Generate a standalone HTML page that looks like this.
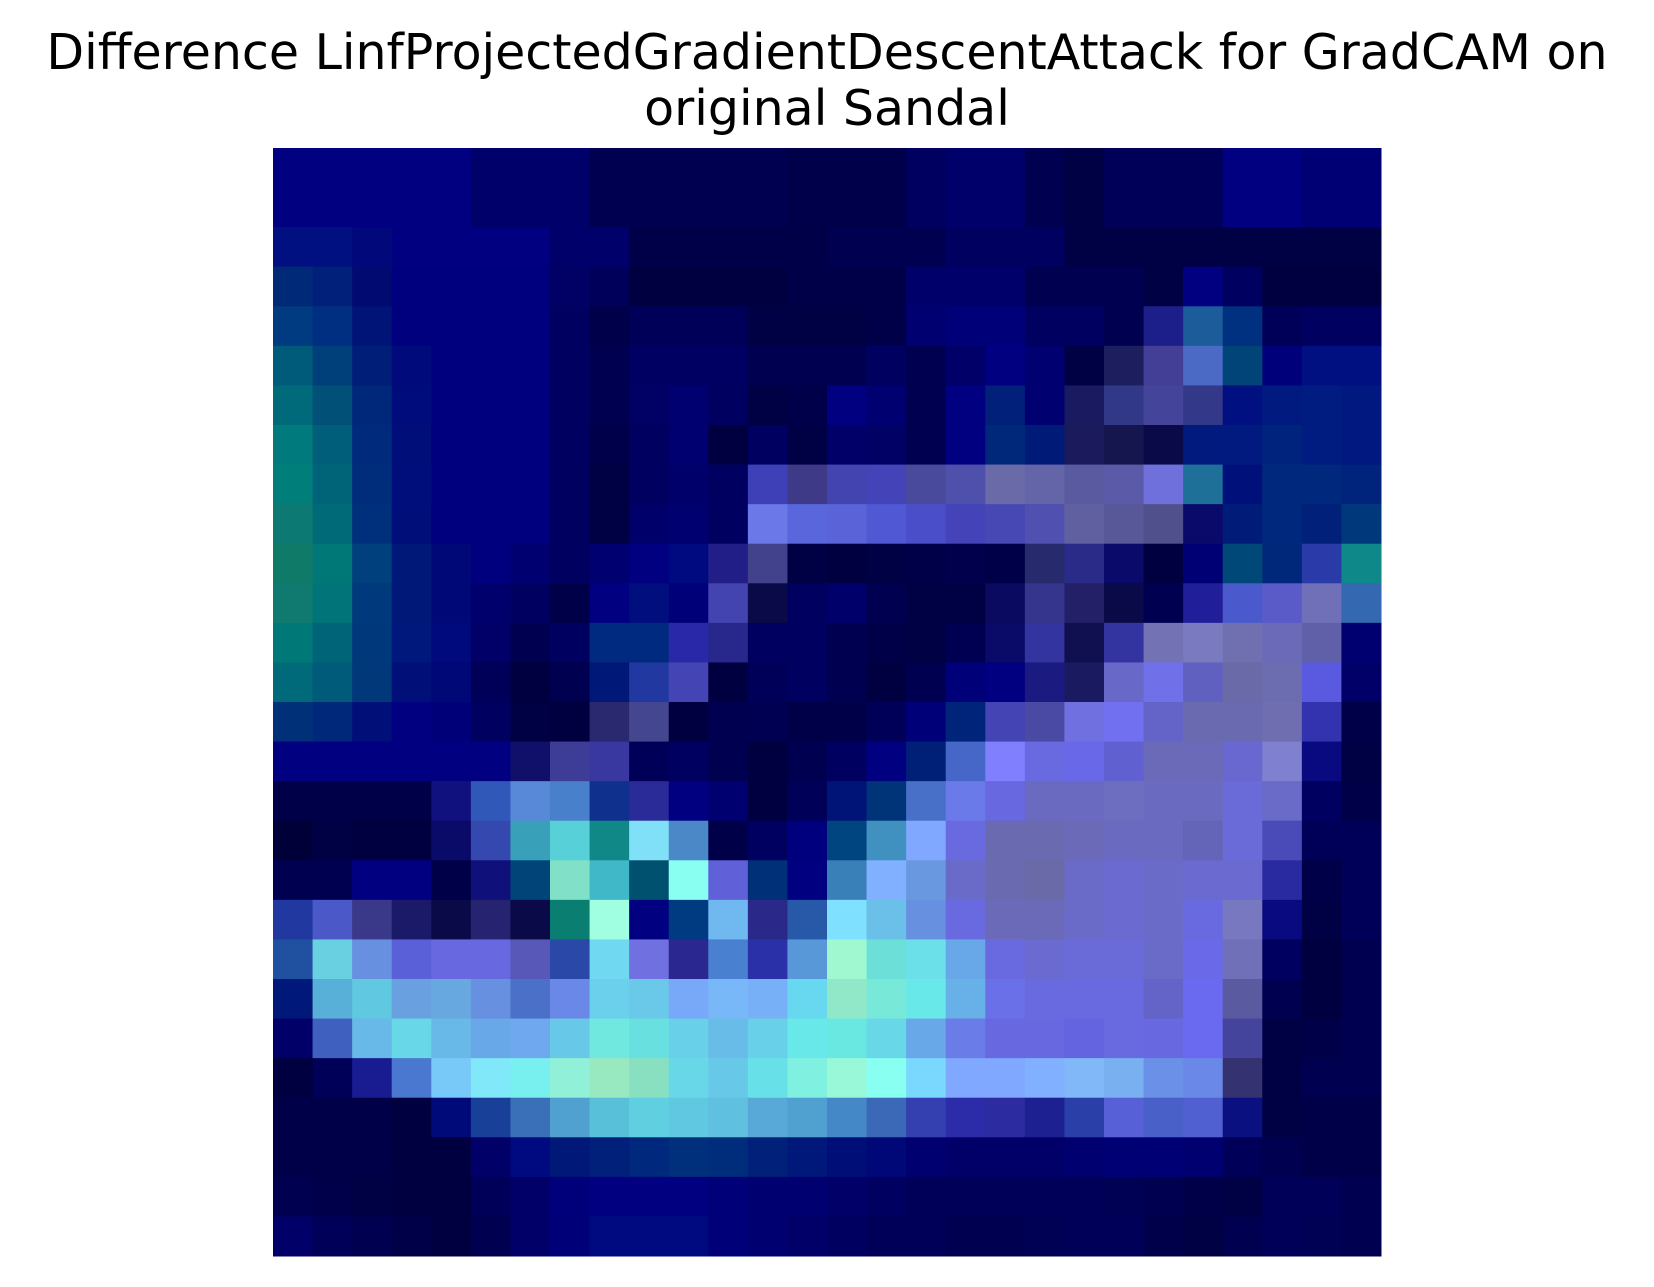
<!DOCTYPE html>
<html>
<head>
<meta charset="utf-8">
<style>
html,body{margin:0;padding:0;background:#fff;}
#wrap{position:relative;width:1654px;height:1287px;overflow:hidden;}
.t{position:absolute;left:0;width:1654px;text-align:center;font-family:"DejaVu Sans","Liberation Sans",sans-serif;font-size:49px;line-height:56px;color:#000;white-space:nowrap;}
</style>
</head>
<body>
<div id="wrap">
<div class="t" style="top:25px">Difference LinfProjectedGradientDescentAttack for GradCAM on</div>
<div class="t" style="top:81px">original Sandal</div>
<svg id="hm" width="1654" height="1287" style="position:absolute;left:0;top:0"></svg>
</div>
<script>
const rowCount = 28;
const colCount = 28;
const cellColors = [
["#000080","#000080","#000080","#000080","#000080","#00006a","#00006a","#00006a","#000050","#000050","#000050","#000050","#000050","#00004a","#00004a","#00004a","#000060","#00006a","#00006a","#000050","#000045","#000058","#000058","#000058","#000080","#000080","#000075","#000075"],
["#000080","#000080","#000080","#000080","#000080","#00006a","#00006a","#00006a","#000050","#000050","#000050","#000050","#000050","#00004a","#00004a","#00004a","#000060","#00006a","#00006a","#000050","#000045","#000058","#000058","#000058","#000080","#000080","#000075","#000075"],
["#001080","#001080","#00087a","#000080","#000080","#000080","#000080","#00006a","#00006a","#000048","#000048","#000048","#000048","#000048","#000050","#000050","#000050","#000060","#000060","#000060","#000045","#000045","#000045","#000045","#000045","#000045","#000045","#000045"],
["#002a78","#00207a","#000a70","#00007e","#00007e","#00007e","#00007e","#000065","#00005a","#000040","#000040","#000040","#000040","#000048","#000048","#000048","#00006a","#00006a","#00006a","#000050","#000050","#000050","#000045","#000080","#000060","#000040","#000040","#000040"],
["#003a80","#002e80","#001478","#00007e","#00007e","#00007e","#00007e","#000060","#00004a","#000058","#000058","#000058","#000045","#000045","#000045","#000048","#000070","#000078","#000078","#000060","#000060","#000050","#1c1e8a","#1c5c9a","#003080","#000058","#000060","#000060"],
["#005a7a","#00407a","#001e78","#000a7a","#00007e","#00007e","#00007e","#000060","#000050","#000062","#000062","#000062","#000050","#000050","#000050","#000060","#000050","#000068","#000080","#000070","#000045","#1c1e5e","#443f96","#4a6ac6","#004478","#00007a","#001080","#001080"],
["#006a7a","#005078","#00287a","#000c7c","#00007e","#00007e","#00007e","#000060","#000050","#000065","#000070","#000060","#000045","#00004a","#000080","#000070","#000050","#000080","#00207a","#000070","#1a1a60","#323888","#44449a","#333888","#001080","#001a80","#001c80","#001880"],
["#007a7c","#005e7a","#002a7c","#000e7a","#00007e","#00007e","#00007e","#000060","#00004a","#000060","#000070","#000040","#000060","#000045","#000068","#000065","#000050","#000080","#00287a","#001a78","#1b1a5c","#15164e","#0a0a48","#001a7e","#001a80","#00247e","#001c80","#001880"],
["#007e7a","#006478","#002c7c","#000e7c","#00007e","#00007e","#00007e","#000060","#000045","#000060","#00006a","#000060","#3e40b8","#3e3a88","#4444b0","#4444b8","#4a4a9c","#4e50ac","#6a6aa8","#6464a8","#5a5aa0","#5a5aa8","#7070dc","#1e7098","#00107a","#00287c","#00287c","#00247c"],
["#0c7a72","#006a78","#00307c","#000e7a","#00007e","#00007e","#00007e","#000060","#000045","#00006a","#000070","#000060","#6a78e8","#5a66dc","#5a64d8","#5058d4","#4a4ec8","#4444b8","#4848b4","#5050b0","#6060a0","#585898","#50508c","#0a0a6a","#001c78","#00287c","#00207a","#00387c"],
["#107a68","#007878","#00407c","#001878","#000878","#00007e","#000070","#000060","#000070","#000080","#000a80","#221e88","#42428c","#000045","#000040","#000045","#000048","#00004c","#000048","#272a6c","#2a2a88","#0a0a6a","#000040","#000075","#004878","#00287a","#2a3aa8","#0e8888"],
["#107a70","#007478","#003a7c","#001878","#000878","#00006c","#000060","#000048","#000080","#000e7e","#000078","#4444b0","#0a0a48","#000060","#00006a","#000050","#000045","#000045","#0a0a60","#35358e","#232068","#0a0a48","#000050","#201e98","#4a5acc","#5a5ac8","#7070b8","#3468b0"],
["#007878","#006478","#00387c","#00187c","#000a7c","#000068","#000050","#000060","#002a80","#002a80","#2828a8","#28288c","#000060","#000060","#000050","#000048","#000045","#000052","#0a0a68","#3434a0","#101050","#3434a0","#7272b4","#7a7ac0","#7070b0","#6a6ab8","#6060a8","#000070"],
["#006a7a","#005a7a","#00387a","#001078","#000878","#000058","#000040","#000050","#001878","#2038a0","#4444b4","#000040","#000058","#000060","#000050","#000040","#000050","#000078","#000080","#1a1a80","#1a1a60","#6868c8","#7070e8","#6060c0","#6a6aa8","#6c6cb0","#5a5ae0","#000068"],
["#003078","#00287a","#001078","#000080","#000078","#000060","#000045","#000040","#2a286e","#454690","#000040","#000050","#000052","#000048","#000048","#000058","#000078","#00247a","#4444b4","#4a4aa4","#7070e0","#7070f0","#6464c8","#6a6ab0","#6a6ab0","#6e6eb0","#3333b0","#000048"],
["#000080","#000080","#000080","#000080","#000080","#000080","#10106a","#3d3d98","#3838a0","#000058","#000060","#000050","#000040","#000050","#000060","#000080","#002078","#4666c8","#8080ff","#6a6ae0","#6868e8","#6060d0","#6a6ab8","#6a6ab8","#6868d0","#8080d0","#0a0a80","#000045"],
["#000048","#000048","#000048","#000048","#10107e","#3058b8","#5888d8","#4880cc","#10308e","#2a2a98","#000080","#000070","#000040","#000058","#001478","#003478","#4870c8","#6a7ae8","#6868e0","#6a6ac0","#6a6ac0","#6e6ec0","#6a6ac0","#6a6ac0","#6a6ad8","#6a6ac8","#000060","#000048"],
["#000038","#000045","#000040","#000040","#0a0a68","#3448b0","#38a0b8","#58d0d8","#108888","#80e0f8","#4a88c8","#000048","#000060","#00007e","#004480","#4090c0","#80a8ff","#6a6ae0","#6a6ab0","#6a6ab0","#6a6ab8","#6a6ac0","#6a6ac0","#6464b8","#6a6ad8","#4a4ab8","#000058","#000058"],
["#000050","#000050","#000080","#000080","#000048","#10107a","#004478","#80e0c8","#40b8c8","#005070","#88fff0","#6060d8","#003078","#000080","#3a80b8","#80b0ff","#6a98e0","#6a6ac8","#6a6ab0","#6a6aa8","#6a6ac8","#6a6ad0","#6a6ac8","#6a6ad0","#6a6ad0","#2a2aa0","#000048","#000058"],
["#2038a0","#4a58c8","#3a3888","#1a1a68","#0a0a48","#262470","#0a0a48","#0a7e70","#a0ffe0","#000080","#003a80","#70b8f0","#2a2888","#2858a8","#80e0ff","#6ac0e8","#6890e0","#6a6ae0","#6a6ab8","#6a6ab8","#6a6ac8","#6a6ad0","#6a6ac8","#6a6ae0","#7878c0","#0a0a80","#000045","#000058"],
["#2050a0","#68d0e0","#6890e0","#5a60d8","#6868e0","#6868e0","#5858b8","#2a48a8","#70d8f0","#7070e0","#2a2890","#4a80d0","#2a30a8","#5898d8","#a0f8d0","#6ce0d8","#6ce0e8","#68a8e8","#6a6ae0","#6a6ad0","#6a6ad8","#6a6ad8","#6a6ac8","#6a6ae8","#7070b8","#000060","#000040","#000050"],
["#00187a","#58b0d8","#60c8e0","#68a0e0","#68a8e0","#6890e0","#4a70c8","#6a88e8","#6ad0ec","#6ac8e8","#78a8f8","#78b8f8","#78b0f8","#68d8f0","#90e8c8","#78e8d8","#68e8e8","#68b0e8","#6a70e8","#6a6ae0","#6a6ae0","#6a6ae0","#6464c8","#6a6af0","#5a5aa0","#000050","#000040","#000050"],
["#000068","#4060c0","#68b8e8","#68d8e8","#68b8e8","#68a8e8","#70a8f0","#68c8e8","#70e8e0","#68e0e0","#68d0e8","#68bce8","#68d0e8","#68e8e8","#68e8e0","#68d8e8","#68a8e8","#6a7ce8","#6868e0","#6868e0","#6464e0","#6a6ae0","#6868e0","#6a6af0","#44449c","#000045","#000048","#000050"],
["#000040","#000058","#181c90","#4a78d0","#78c8f8","#80e8f8","#78f0f0","#90f0d8","#98e8c0","#88e0c0","#68d8e8","#68c8e8","#68e0e8","#80f0e0","#98f8d8","#88fff0","#7ad8ff","#80a8ff","#80a8ff","#80b0ff","#80b8f8","#78b0f0","#6a90e8","#6a88e8","#343270","#000045","#000050","#000050"],
["#000048","#000048","#000048","#000040","#000a78","#184098","#3a70b8","#50a0d0","#58c0d8","#60d0e0","#60c8e0","#60c0e0","#58a8d8","#50a0d0","#4488c8","#3c68b8","#3440b0","#2c2ca8","#2c2ca0","#1c2090","#2a40a8","#5860d8","#4860c8","#5060d0","#0a1080","#000045","#000048","#000048"],
["#000048","#000048","#000048","#000040","#000040","#000068","#000a80","#001878","#00207a","#00287c","#00307c","#002c7c","#00207a","#00187a","#000e78","#000878","#000070","#000068","#000068","#000068","#000070","#000075","#000075","#000070","#000058","#000050","#000048","#000048"],
["#000050","#00004a","#000045","#000040","#000040","#000058","#000068","#00007a","#000080","#000080","#000080","#000078","#000070","#000070","#000068","#000060","#000058","#000058","#000058","#000058","#000058","#000055","#000050","#000048","#000045","#000058","#000058","#000050"],
["#000068","#000058","#000050","#000048","#000040","#000050","#000068","#000078","#000a80","#000a80","#000a80","#000078","#000070","#000068","#000060","#000058","#000058","#000050","#000050","#000055","#000058","#000058","#00004a","#000045","#000050","#000058","#000055","#000050"]
];
const plotLeft = 273, plotTop = 148, plotSize = 1108;
function xPos(c){ return plotLeft + c * plotSize / colCount; }
function yPos(r){ return plotTop + r * plotSize / rowCount; }
const svg = document.getElementById('hm');
const NS = 'http://www.w3.org/2000/svg';
for (let r = 0; r < rowCount; r++) {
  for (let c = 0; c < colCount; c++) {
    const rect = document.createElementNS(NS, 'rect');
    const x0 = xPos(c), y0 = yPos(r);
    rect.setAttribute('x', x0);
    rect.setAttribute('y', y0);
    rect.setAttribute('width', xPos(c + 1) - x0 + 0.5);
    rect.setAttribute('height', yPos(r + 1) - y0 + 0.5);
    rect.setAttribute('fill', cellColors[r][c]);
    
    
    svg.appendChild(rect);
  }
}
</script>
</body>
</html>
